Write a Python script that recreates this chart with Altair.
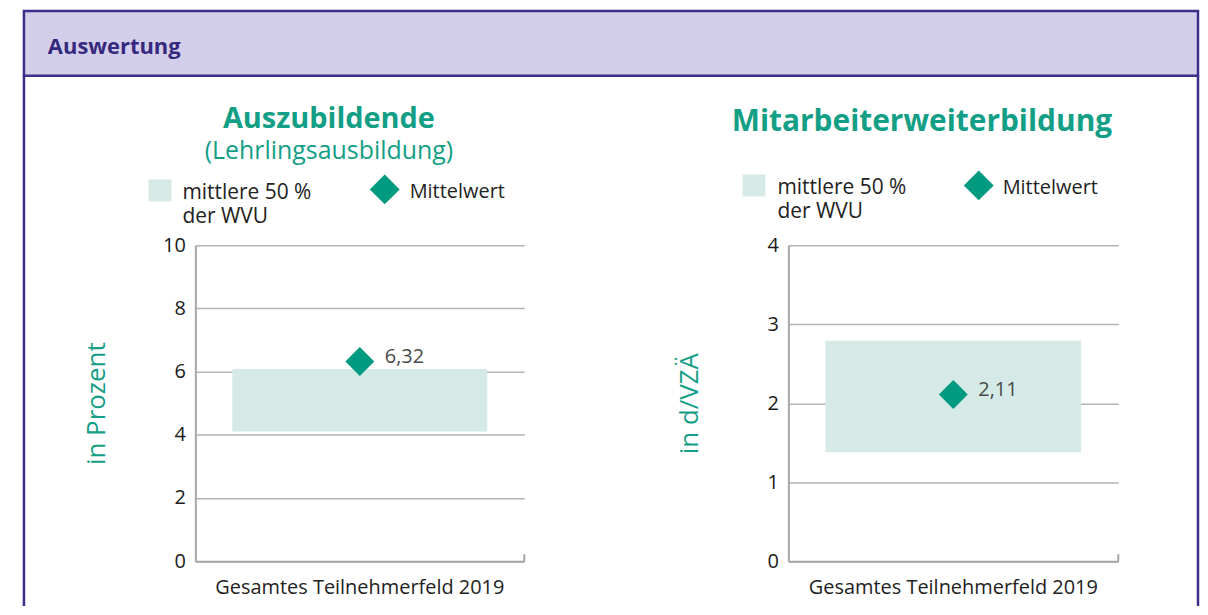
import altair as alt
import pandas as pd

# ---------------- data ----------------
categories = ["Gesamtes Teilnehmerfeld 2019"]
panel_titles = ["Auszubildende", "Mitarbeiterweiterbildung"]
panel_subtitles = ["(Lehrlingsausbildung)", ""]
axis_titles = ["in Prozent", "in d/VZÄ"]
q1_values = [4.10, 1.38]
q3_values = [6.08, 2.79]
mean_values = [6.32, 2.11]
y_max = [10, 4]
y_ticks = [[0, 2, 4, 6, 8, 10], [0, 1, 2, 3, 4]]
legend_box_label = "mittlere 50 %\nder WVU"
legend_mean_label = "Mittelwert"
header_text = "Auswertung"

# ---------------- style ----------------
FONT = "Open Sans"
TEAL = "#139e86"
DIAMOND = "#009a80"
BOX = "#d5eae7"
GRID = "#b3b3b3"
AXISC = "#a6a6a6"
HEAD_FILL = "#d3cfea"
HEAD_STROKE = "#3b2d88"
HEAD_TEXT = "#35297e"

PW = [330, 331]
PH = 317
BOTTOM = 362  # lower end of frame lines (relative to plot top)
RIGHT = 1006  # right frame edge (relative to left plot origin)
# legend offsets per panel (relative to plot origin)
LEG = [
    dict(sq_x=-47, sq_y=-66, tx=-13, ty=-46, dx=190, dy=-56, mx=215, my=-47),
    dict(sq_x=-46, sq_y=-71, tx=-11, ty=-51, dx=191, dy=-60, mx=215, my=-51),
]
TITLE_Y = [-118, -115]
TITLE_SIZE = [29, 30]


def make_panel(i):
    df = pd.DataFrame({
        "cat": categories,
        "q1": [q1_values[i]],
        "q3": [q3_values[i]],
        "mean": [mean_values[i]],
        "label": [f"{mean_values[i]:.2f}".replace(".", ",")],
    })
    one = pd.DataFrame({"k": [0]})
    base = alt.Chart(df)
    deco = alt.Chart(one)
    w = PW[i]

    xscale = alt.Scale(paddingInner=0, paddingOuter=0.145)
    x = alt.X("cat:N", scale=xscale, axis=alt.Axis(
        title=None, labelAngle=0, ticks=False, domainColor=AXISC, domainWidth=2,
        labelFont=FONT, labelFontSize=20, labelColor="#222222", labelPadding=16,
        labelLimit=0))
    y = alt.Y("q1:Q", scale=alt.Scale(domain=[0, y_max[i]], nice=False, zero=True),
              axis=alt.Axis(
                  values=y_ticks[i], title=axis_titles[i], grid=True, gridColor=GRID,
                  gridWidth=1.5, domainColor=AXISC, domainWidth=2, ticks=False,
                  labelFont=FONT, labelFontSize=20, labelColor="#1a1a1a",
                  labelPadding=10, format="d",
                  titleFont=FONT, titleFontSize=26, titleFontWeight="normal",
                  titleColor=TEAL, titleX=-99, titleY=PH / 2, titleAngle=270,
                  titleAlign="center", titleBaseline="middle"))

    layers = []
    if i == 0:
        # invisible page-extent rect (fixes the chart origin), header band and frame
        layers.append(deco.mark_rect(fill="white", opacity=0, strokeWidth=0).encode(
            x=alt.value(-188), x2=alt.value(1002), y=alt.value(-237), y2=alt.value(BOTTOM)))
        layers.append(deco.mark_rect(fill=HEAD_FILL, stroke=HEAD_STROKE, strokeWidth=2.5).encode(
            x=alt.value(-172), x2=alt.value(RIGHT), y=alt.value(-235), y2=alt.value(-170)))
        layers.append(deco.mark_rule(color=HEAD_STROKE, strokeWidth=2.5).encode(
            x=alt.value(-172), y=alt.value(-170), y2=alt.value(BOTTOM)))
        layers.append(deco.mark_text(text=header_text, font=FONT, fontSize=22, fontWeight="bold",
                                     color=HEAD_TEXT, align="left", baseline="alphabetic").encode(
            x=alt.value(-148), y=alt.value(-192)))
    else:
        layers.append(deco.mark_rule(color=HEAD_STROKE, strokeWidth=2.5).encode(
            x=alt.value(RIGHT - 595), y=alt.value(-170), y2=alt.value(BOTTOM)))

    # data marks
    layers.append(base.mark_bar(color=BOX).encode(x=x, y=y, y2="q3:Q"))
    layers.append(base.mark_point(shape="diamond", filled=True, size=841, color=DIAMOND,
                                  opacity=1).encode(x="cat:N", y="mean:Q"))
    layers.append(base.mark_text(align="left", baseline="alphabetic", dx=25, dy=2, font=FONT,
                                 fontSize=20, color="#4a4a4a").encode(
        x="cat:N", y="mean:Q", text="label:N"))

    # end tick of x axis
    layers.append(deco.mark_rule(color=AXISC, strokeWidth=2).encode(
        x=alt.value(w), y=alt.value(PH - 7), y2=alt.value(PH)))

    # titles
    layers.append(deco.mark_text(text=panel_titles[i], font=FONT, fontSize=TITLE_SIZE[i],
                                 fontWeight="bold", color=TEAL, align="center",
                                 baseline="alphabetic").encode(
        x=alt.value(134), y=alt.value(TITLE_Y[i])))
    if panel_subtitles[i]:
        layers.append(deco.mark_text(text=panel_subtitles[i], font=FONT, fontSize=25,
                                     color=TEAL, align="center", baseline="alphabetic").encode(
            x=alt.value(134), y=alt.value(TITLE_Y[i] + 31)))

    # legend
    L = LEG[i]
    layers.append(deco.mark_rect(color=BOX).encode(
        x=alt.value(L["sq_x"]), x2=alt.value(L["sq_x"] + 23),
        y=alt.value(L["sq_y"]), y2=alt.value(L["sq_y"] + 22)))
    layers.append(deco.mark_text(text=legend_box_label, lineBreak="\n", lineHeight=24, font=FONT,
                                 fontSize=21, color="#222222", align="left",
                                 baseline="alphabetic").encode(
        x=alt.value(L["tx"]), y=alt.value(L["ty"])))
    layers.append(deco.mark_point(shape="diamond", filled=True, size=900, color=DIAMOND,
                                  opacity=1).encode(x=alt.value(L["dx"]), y=alt.value(L["dy"])))
    layers.append(deco.mark_text(text=legend_mean_label, font=FONT, fontSize=20, color="#222222",
                                 align="left", baseline="alphabetic").encode(
        x=alt.value(L["mx"]), y=alt.value(L["my"])))

    return alt.layer(*layers).properties(width=w, height=PH)


chart = alt.hconcat(make_panel(0), make_panel(1), spacing=265, bounds="flush").properties(
    padding=0, background="white"
).configure_view(strokeWidth=0)

chart.save("out.html", embed_options={"renderer": "svg", "actions": False})
